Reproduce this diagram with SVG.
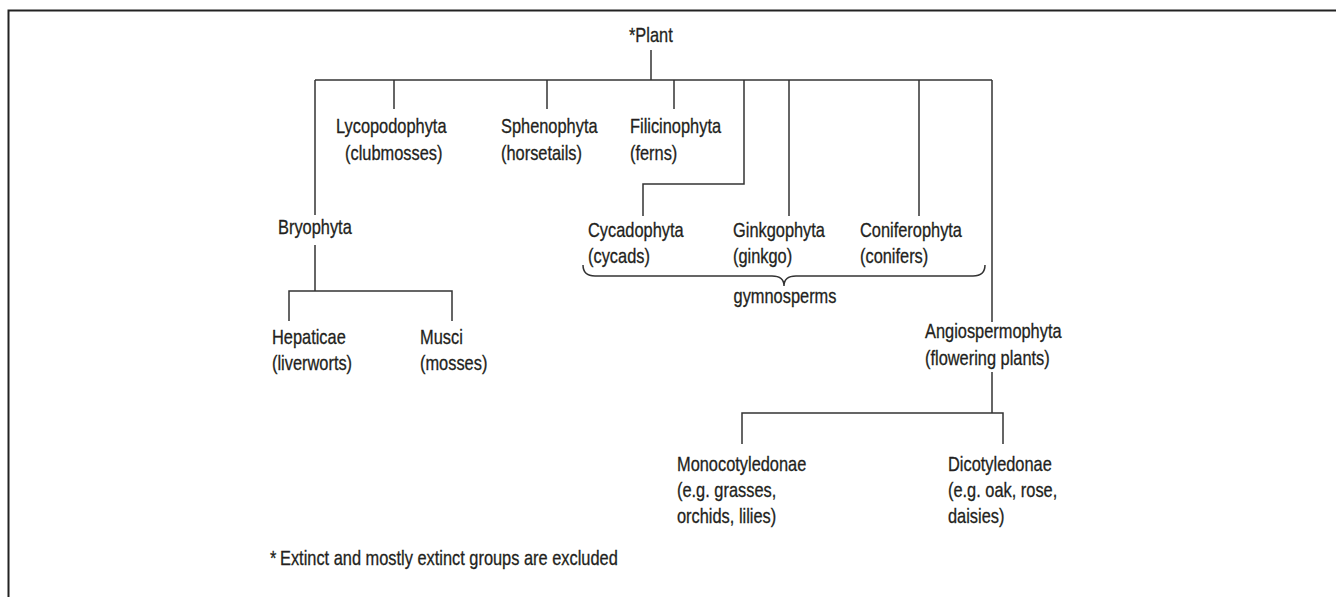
<svg xmlns="http://www.w3.org/2000/svg" width="1336" height="597" viewBox="0 0 1336 597">
<style>
text{font-family:"Liberation Sans",Arial,sans-serif;font-size:20px;fill:#231f20;stroke:#231f20;stroke-width:0.3;}
.ln{fill:none;stroke:#333;stroke-width:1.5;}
.border{fill:none;stroke:#222;stroke-width:2;}
</style>
<rect width="1336" height="597" fill="#fff"/>
<path class="border" d="M8.5,597 V10.5 H1336"/>
<g id="connectors">
<path class="ln" d="M651,50 V80"/>
<path class="ln" d="M315,80 H992"/>
<path class="ln" d="M315,80 V215"/>
<path class="ln" d="M315,245 V291"/>
<path class="ln" d="M289,321 V291 H452 V321"/>
<path class="ln" d="M394,80 V109"/>
<path class="ln" d="M547,80 V109"/>
<path class="ln" d="M674,80 V109"/>
<path class="ln" d="M744,80 V184 H643 V216"/>
<path class="ln" d="M789,80 V216"/>
<path class="ln" d="M919,80 V216"/>
<path class="ln" d="M992,80 V322"/>
<path class="ln" d="M992,372 V413"/>
<path class="ln" d="M742,444 V413 H1003 V444"/>
<path class="ln" d="M583,265 Q583,276 595,276 L772,276 Q784,276 784,286 Q784,276 796,276 L973,276 Q985,276 985,265"/>
</g>
<g id="plant"><text transform="translate(629,42) scale(0.82,1)">*Plant</text></g>
<g id="lycopodophyta"><text transform="translate(336,133) scale(0.82,1)">Lycopodophyta</text><text transform="translate(345,160) scale(0.82,1)">(clubmosses)</text></g>
<g id="sphenophyta"><text transform="translate(501,133) scale(0.82,1)">Sphenophyta</text><text transform="translate(501,160) scale(0.82,1)">(horsetails)</text></g>
<g id="filicinophyta"><text transform="translate(630,133) scale(0.82,1)">Filicinophyta</text><text transform="translate(630,160) scale(0.82,1)">(ferns)</text></g>
<g id="bryophyta"><text transform="translate(278,234) scale(0.82,1)">Bryophyta</text></g>
<g id="hepaticae"><text transform="translate(272,344) scale(0.82,1)">Hepaticae</text><text transform="translate(272,370) scale(0.82,1)">(liverworts)</text></g>
<g id="musci"><text transform="translate(420,344) scale(0.82,1)">Musci</text><text transform="translate(420,370) scale(0.82,1)">(mosses)</text></g>
<g id="cycadophyta"><text transform="translate(588,237) scale(0.82,1)">Cycadophyta</text><text transform="translate(588,263) scale(0.82,1)">(cycads)</text></g>
<g id="ginkgophyta"><text transform="translate(733,237) scale(0.82,1)">Ginkgophyta</text><text transform="translate(733,263) scale(0.82,1)">(ginkgo)</text></g>
<g id="coniferophyta"><text transform="translate(860,237) scale(0.82,1)">Coniferophyta</text><text transform="translate(860,263) scale(0.82,1)">(conifers)</text></g>
<g id="gymnosperms"><text transform="translate(785,303) scale(0.82,1)" text-anchor="middle">gymnosperms</text></g>
<g id="angiospermophyta"><text transform="translate(925,338) scale(0.82,1)">Angiospermophyta</text><text transform="translate(925,365) scale(0.82,1)">(flowering plants)</text></g>
<g id="monocotyledonae"><text transform="translate(677,471) scale(0.82,1)">Monocotyledonae</text><text transform="translate(677,497) scale(0.82,1)">(e.g. grasses,</text><text transform="translate(677,523) scale(0.82,1)">orchids, lilies)</text></g>
<g id="dicotyledonae"><text transform="translate(948,471) scale(0.82,1)">Dicotyledonae</text><text transform="translate(948,497) scale(0.82,1)">(e.g. oak, rose,</text><text transform="translate(948,523) scale(0.82,1)">daisies)</text></g>
<g id="footnote"><text transform="translate(270,565) scale(0.82,1)">*<tspan x="12.2">Extinct and mostly extinct groups are excluded</tspan></text></g>
</svg>
